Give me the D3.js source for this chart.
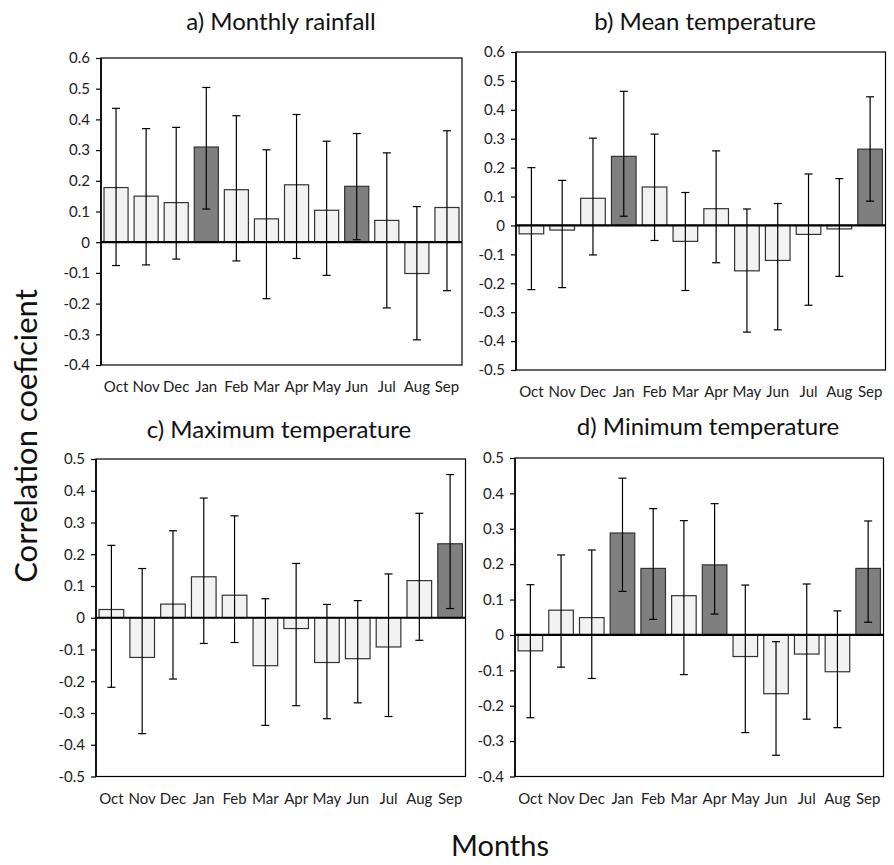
<!DOCTYPE html>
<html>
<head>
<meta charset="utf-8">
<script src="https://cdn.jsdelivr.net/npm/d3@7"></script>
<style>
  body { margin: 0; background: #fff; }
  svg { font-family: Lato, "Open Sans", sans-serif; }
</style>
</head>
<body>
<div class="chart"></div>
<script>
// months along the x axis (water year, Oct -> Sep)
const months = ["Oct", "Nov", "Dec", "Jan", "Feb", "Mar", "Apr", "May", "Jun", "Jul", "Aug", "Sep"];

// a) monthly rainfall
const rainR  = [0.178, 0.150, 0.129, 0.310, 0.171, 0.076, 0.187, 0.104, 0.182, 0.071, -0.102, 0.113];
const rainHi = [0.436, 0.370, 0.374, 0.504, 0.412, 0.301, 0.416, 0.329, 0.354, 0.291, 0.116, 0.363];
const rainLo = [-0.076, -0.074, -0.055, 0.108, -0.061, -0.184, -0.053, -0.108, 0.008, -0.214, -0.318, -0.158];
const rainSig = ["Jan", "Jun"];

// b) mean temperature
const meanR  = [-0.029, -0.016, 0.094, 0.239, 0.133, -0.055, 0.058, -0.157, -0.121, -0.031, -0.012, 0.264];
const meanHi = [0.200, 0.156, 0.302, 0.464, 0.316, 0.114, 0.258, 0.057, 0.076, 0.178, 0.162, 0.445];
const meanLo = [-0.222, -0.215, -0.102, 0.032, -0.052, -0.225, -0.129, -0.369, -0.361, -0.276, -0.176, 0.084];
const meanSig = ["Jan", "Sep"];

// c) maximum temperature
const maxR  = [0.026, -0.125, 0.043, 0.129, 0.071, -0.151, -0.034, -0.141, -0.129, -0.092, 0.117, 0.233];
const maxHi = [0.228, 0.155, 0.274, 0.377, 0.321, 0.060, 0.171, 0.042, 0.054, 0.138, 0.329, 0.451];
const maxLo = [-0.219, -0.365, -0.193, -0.081, -0.078, -0.339, -0.277, -0.318, -0.268, -0.311, -0.071, 0.029];
const maxSig = ["Sep"];

// d) minimum temperature
const minR  = [-0.045, 0.070, 0.049, 0.288, 0.188, 0.111, 0.198, -0.061, -0.166, -0.054, -0.104, 0.188];
const minHi = [0.142, 0.226, 0.240, 0.443, 0.357, 0.323, 0.371, 0.141, -0.019, 0.144, 0.068, 0.322];
const minLo = [-0.234, -0.091, -0.123, 0.123, 0.044, -0.112, 0.059, -0.276, -0.340, -0.238, -0.262, 0.036];
const minSig = ["Jan", "Feb", "Apr", "Sep"];

const panels = [
    { title: "a) Monthly rainfall",      r: rainR, hi: rainHi, lo: rainLo, sig: rainSig, domain: [-0.4, 0.6],
      x0: 101, x1: 462, y0: 58, y1: 365, tx: 281, ty: 30 },
    { title: "b) Mean temperature",      r: meanR, hi: meanHi, lo: meanLo, sig: meanSig, domain: [-0.5, 0.6],
      x0: 516, x1: 885.5, y0: 52, y1: 370, tx: 705, ty: 30 },
    { title: "c) Maximum temperature",   r: maxR, hi: maxHi, lo: maxLo, sig: maxSig, domain: [-0.5, 0.5],
      x0: 96, x1: 465.5, y0: 459, y1: 776.5, tx: 279, ty: 438 },
    { title: "d) Minimum temperature",   r: minR, hi: minHi, lo: minLo, sig: minSig, domain: [-0.4, 0.5],
      x0: 515, x1: 883.5, y0: 458, y1: 776.5, tx: 708, ty: 435 }
];

const svg = d3.select(".chart").append("svg")
    .attr("width", 894)
    .attr("height", 865);

const fmt = d => (Math.abs(d) < 1e-9 ? "0" : d.toFixed(1));

panels.forEach(p => {
    const x = d3.scaleBand()
        .domain(months)
        .range([p.x0, p.x1])
        .paddingInner(0.2)
        .paddingOuter(0.1);

    const y = d3.scaleLinear()
        .domain(p.domain)
        .range([p.y1, p.y0]);

    const ticks = d3.range(Math.round(p.domain[0] * 10), Math.round(p.domain[1] * 10) + 1).map(t => t / 10);

    const g = svg.append("g");

    // plot frame
    g.append("rect")
        .attr("x", p.x0).attr("y", p.y0)
        .attr("width", p.x1 - p.x0).attr("height", p.y1 - p.y0)
        .attr("fill", "none")
        .attr("stroke", "#000")
        .attr("stroke-width", 1.2);

    // y axis
    const yAxis = g.append("g")
        .attr("transform", `translate(${p.x0},0)`)
        .call(d3.axisLeft(y).tickValues(ticks).tickFormat(fmt).tickSize(5).tickPadding(6));
    yAxis.select(".domain").attr("stroke-width", 1.6).attr("d", `M0,${p.y0}V${p.y1}`);
    yAxis.selectAll(".tick line").attr("stroke-width", 1.2);
    yAxis.selectAll("text")
        .attr("font-size", 15)
        .attr("font-family", "Lato, sans-serif")
        .attr("fill", "#222");

    // bars
    g.selectAll(".bar")
        .data(months)
        .join("rect")
        .attr("class", "bar")
        .attr("x", m => x(m))
        .attr("width", x.bandwidth())
        .attr("y", (m, i) => y(Math.max(0, p.r[i])))
        .attr("height", (m, i) => Math.abs(y(p.r[i]) - y(0)))
        .attr("fill", m => p.sig.includes(m) ? "#7f7f7f" : "#f2f2f2")
        .attr("stroke", "#333")
        .attr("stroke-width", 1.2);

    // zero line
    g.append("line")
        .attr("x1", p.x0).attr("x2", p.x1)
        .attr("y1", y(0)).attr("y2", y(0))
        .attr("stroke", "#000")
        .attr("stroke-width", 2.2);

    // error bars
    const cx = m => x(m) + x.bandwidth() / 2;
    const err = g.selectAll(".err")
        .data(months)
        .join("g")
        .attr("class", "err")
        .attr("stroke", "#000")
        .attr("stroke-width", 1.2);
    err.append("line")
        .attr("x1", cx).attr("x2", cx)
        .attr("y1", (m, i) => y(p.hi[i]))
        .attr("y2", (m, i) => y(p.lo[i]));
    err.append("line")
        .attr("x1", m => cx(m) - 4).attr("x2", m => cx(m) + 4)
        .attr("y1", (m, i) => y(p.hi[i])).attr("y2", (m, i) => y(p.hi[i]));
    err.append("line")
        .attr("x1", m => cx(m) - 4).attr("x2", m => cx(m) + 4)
        .attr("y1", (m, i) => y(p.lo[i])).attr("y2", (m, i) => y(p.lo[i]));

    // month labels
    g.selectAll(".mlab")
        .data(months)
        .join("text")
        .attr("class", "mlab")
        .attr("x", cx)
        .attr("y", p.y1 + 27)
        .attr("text-anchor", "middle")
        .attr("font-size", 15)
        .attr("fill", "#222")
        .text(m => m);

    // panel title
    g.append("text")
        .attr("x", p.tx)
        .attr("y", p.ty)
        .attr("text-anchor", "middle")
        .attr("font-size", 24)
        .attr("fill", "#111")
        .text(p.title);
});

// shared axis titles
svg.append("text")
    .attr("transform", "translate(37,436) rotate(-90)")
    .attr("text-anchor", "middle")
    .attr("font-size", 31)
    .attr("fill", "#111")
    .text("Correlation coeficient");

svg.append("text")
    .attr("x", 500)
    .attr("y", 856)
    .attr("text-anchor", "middle")
    .attr("font-size", 29)
    .attr("fill", "#111")
    .text("Months");
</script>
</body>
</html>
